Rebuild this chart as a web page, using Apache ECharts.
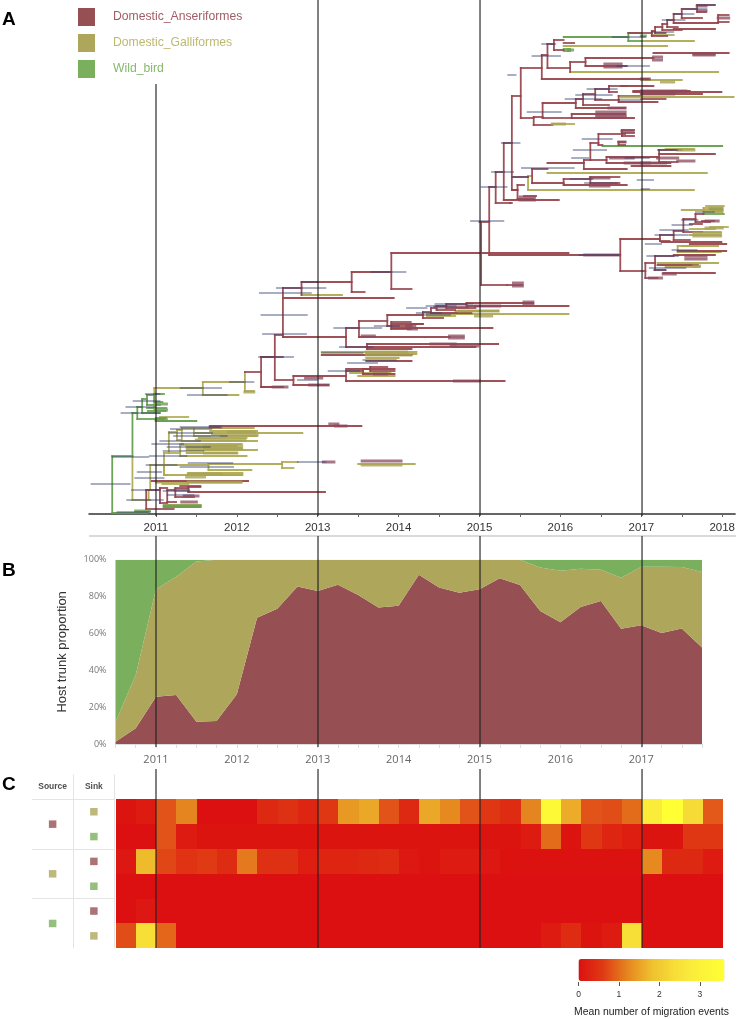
<!DOCTYPE html>
<html><head><meta charset="utf-8">
<style>html,body{margin:0;padding:0;background:#fff}#c{width:738px;height:1019px}</style>
<script src="https://cdn.jsdelivr.net/npm/echarts@6/dist/echarts.min.js"></script>
</head><body><div id="c"></div>
<script>
// ---------- hosts ----------
const hostNames = ['Domestic_Anseriformes','Domestic_Galliformes','Wild_bird'];
const guideYears = [2011,2013,2015,2017];
const yearTicks = [2011,2011.5,2012,2012.5,2013,2013.5,2014,2014.5,2015,2015.5,2016,2016.5,2017,2017.5,2018];

// ---------- Panel A: tree, x = decimal year, y = tip rank ----------
// forks: [nodeYear, rankTop, yearTop, rankBottom, yearBottom]
const anserForks = [
 [2012.30,357,2012.47,387,2012.57],[2012.47,335,2012.57,380,2012.70],[2012.57,288,2012.80,337,2013.35],
 [2012.80,282,2013.42,295,2012.80],[2013.42,272,2013.91,292,2013.58],[2013.91,253,2015.00,289,2014.16],
 [2012.70,376,2013.35,385,2013.13],[2013.35,328,2013.51,347,2013.61],[2013.51,321,2013.86,337,2014.63],
 [2013.86,315,2014.30,326,2013.91],[2013.91,322,2014.15,329,2014.15],[2014.30,312,2014.40,318,2014.55],
 [2014.40,308,2014.47,313,2014.9],[2014.47,306,2014.59,310,2014.7],[2014.59,304,2014.84,308,2014.95],
 [2014.84,303,2015.66,306,2016.10],[2013.61,344,2015.23,349,2014.16],
 [2013.35,371,2013.56,381,2015.31],[2013.56,369,2013.65,374,2013.95],[2013.65,367,2013.86,371,2013.95],
 [2015.02,222,2015.12,285,2015.34],[2015.12,187,2015.20,255,2016.72],[2015.20,172,2015.30,203,2015.38],
 [2015.30,143,2015.40,200,2015.98],[2015.40,96,2015.51,190,2015.47],[2015.47,185,2015.55,199,2015.67],
 [2015.65,169,2015.84,183,2016.04],[2016.04,179,2016.37,185,2016.82],[2016.37,177,2016.73,183,2016.73],
 [2016.29,160,2016.37,169,2016.82],[2016.37,143,2016.47,160,2016.57],[2016.47,134,2016.80,145,2016.52],
 [2016.57,157,2017.22,163,2017.36],[2017.22,150,2017.50,162,2017.45],
 [2015.51,68,2015.77,118,2015.67],[2015.77,55,2015.84,79,2017.09],[2015.84,44,2015.92,68,2016.12],
 [2015.92,40,2016.04,50,2016.04],[2016.12,62,2016.31,72,2016.12],[2016.31,58,2017.15,66,2016.82],
 [2017.13,31,2017.17,36,2017.32],[2017.17,27,2017.26,33,2017.30],[2017.26,24,2017.32,30,2017.50],
 [2017.32,20,2017.40,27,2017.45],[2017.40,14,2017.50,23,2017.95],[2017.50,9,2017.69,18,2017.75],
 [2017.69,5,2017.91,12,2017.80],[2017.95,15,2018.08,22,2018.08],
 [2015.67,117,2015.78,125,2015.90],[2015.78,103,2016.19,118,2016.14],[2016.19,99,2016.28,108,2016.80],
 [2016.28,94,2016.43,105,2016.60],[2016.43,89,2016.60,100,2016.72],[2016.72,96,2017.00,102,2017.20],
 [2016.60,86,2016.82,92,2016.70],[2016.14,114,2016.80,118,2016.91],
 [2016.74,239,2017.23,271,2017.05],[2017.05,263,2017.17,278,2017.20],[2017.17,256,2017.40,270,2017.30],
 [2017.23,235,2017.40,241,2017.35],[2017.40,231,2017.52,240,2017.60],[2017.52,219,2017.67,232,2017.75],
 [2017.67,214,2017.77,222,2017.85],
 [2010.88,490,2011.05,509,2011.22],[2011.05,488,2011.14,503,2011.14],[2011.14,490,2011.24,502,2011.25],
 [2011.24,488,2011.40,497,2011.47],[2011.40,487,2011.55,492,2013.09],
 [2016.76,130,2016.91,136,2016.91],[2016.72,142,2016.80,145,2016.80]
];
// branches: [yearStart, yearEnd, rank]
const anserBranches = [
 [2012.57,2013.94,298],[2012.30,2012.57,357],[2012.10,2012.30,372],[2012.30,2012.57,387],
 [2015.00,2016.10,253],[2016.72,2016.74,255],[2015.34,2015.53,285],[2015.38,2015.40,203],
 [2013.91,2014.16,326],[2014.16,2014.30,324],[2013.91,2014.30,324],[2013.91,2015.16,328],
 [2013.61,2014.95,347],[2013.05,2014.16,355],[2013.60,2014.16,361],[2013.35,2013.95,369],
 [2015.40,2015.60,177],[2015.84,2016.29,163],[2016.04,2016.17,43],[2016.84,2017.13,33],
 [2017.15,2018.08,53],[2017.22,2017.91,154],[2017.40,2017.91,29],[2016.90,2017.99,92],
 [2016.90,2017.60,91],[2017.00,2017.75,94],[2016.75,2017.15,86],[2017.00,2017.30,99],
 [2016.76,2016.91,133],[2017.40,2017.91,255],[2017.45,2018.05,251],[2017.27,2017.91,273],
 [2017.25,2017.99,242],[2017.60,2018.05,244],[2015.00,2015.02,222],[2016.88,2017.36,166],
 [2011.67,2013.54,426],[2010.95,2012.14,481],[2011.30,2011.55,486],[2017.60,2017.75,224],[2017.75,2017.90,221],
 [2015.55,2015.70,196],[2015.40,2015.47,190],[2017.20,2017.70,265]
];
const galliForks = [
 [2010.71,456,2010.71,500,2010.91],[2010.93,465,2011.10,490,2010.93],[2010.91,490,2010.91,500,2010.93],
 [2011.10,453,2011.16,475,2011.14],[2011.16,432,2011.26,453,2011.30],[2011.26,430,2011.32,440,2011.30],
 [2011.32,428,2011.47,441,2011.53],[2011.47,428,2011.67,436,2011.67],[2011.30,445,2011.38,456,2011.38],
 [2010.98,388,2011.58,413,2010.98],[2011.58,382,2012.10,395,2012.02],[2012.10,372,2012.10,391,2012.21],
 [2011.10,465,2011.65,475,2012.06],[2011.65,464,2012.56,470,2012.18],[2012.56,462,2012.75,468,2012.70],
 [2015.60,176,2015.65,190,2017.65],[2017.45,246,2017.70,252,2017.98],[2017.77,208,2018.00,212,2018.00]
];
const galliBranches = [
 [2011.67,2012.21,428],[2011.67,2012.25,431],[2011.47,2012.81,433],[2011.80,2012.25,436],[2011.53,2012.12,438],
 [2011.53,2012.25,441],[2011.30,2012.06,444],[2011.38,2012.00,446],[2011.38,2012.06,448],[2011.38,2012.25,450],
 [2011.38,2012.00,453],[2011.38,2012.12,456],[2011.05,2011.40,417],[2011.00,2012.06,482.5],[2011.08,2011.40,484],
 [2011.40,2012.07,473],[2011.55,2012.07,475],[2011.10,2011.55,505],
 [2012.80,2013.30,295],[2013.50,2014.20,464],[2013.05,2014.22,352],[2013.60,2014.22,354],[2013.60,2014.00,358],
 [2013.40,2013.90,373],[2013.50,2013.95,376],[2014.70,2015.23,311],[2014.35,2016.10,314],[2014.35,2014.70,316],
 [2015.84,2017.81,173],[2016.04,2017.32,46],[2016.12,2017.95,72],[2017.00,2017.65,41],[2015.90,2016.17,124],
 [2017.00,2018.14,97],[2017.30,2017.65,149],[2017.13,2017.40,35],[2017.00,2017.50,80],
 [2017.85,2018.07,227],[2017.60,2017.98,235],[2017.75,2017.98,232],[2017.60,2017.91,229],[2017.20,2017.95,263],
 [2017.30,2017.72,267],[2017.50,2018.00,210],[2017.50,2017.95,246],[2017.80,2018.02,206]
];
const wildForks = [
 [2010.46,456,2010.71,513,2010.89],[2010.71,413,2010.77,456,2010.71],[2010.77,407,2010.83,419,2011.10],
 [2010.83,399,2010.89,413,2011.05],[2010.89,395,2010.98,405,2011.05],[2010.98,394,2011.10,402,2011.08],
 [2016.84,33,2017.00,41,2017.00]
];
const wildBranches = [
 [2010.89,2011.13,408],[2010.90,2011.12,411],[2011.00,2011.13,418],[2011.00,2011.50,421],[2011.10,2011.55,507],
 [2016.04,2016.84,37],[2016.04,2016.12,51],[2016.04,2016.12,49],[2016.52,2018.00,146],[2017.77,2018.02,214],
 [2010.75,2010.90,512],[2017.85,2018.00,209]
];
// thick merged tip groups: [yearStart, yearEnd, rank]
const anserDense = [
 [2015.42,2015.53,283],[2015.42,2015.53,286],[2015.50,2015.68,197],[2015.50,2015.68,200],[2016.37,2016.60,178],
 [2016.37,2016.60,186],[2016.62,2016.90,158],[2016.80,2017.10,163],[2017.15,2017.25,57],[2017.15,2017.25,60],
 [2017.65,2017.90,54],[2016.55,2016.75,64],[2016.55,2016.75,67],[2016.45,2016.80,112],[2016.45,2016.80,115],
 [2016.45,2016.80,117],[2016.60,2016.80,108],[2017.00,2017.55,91],[2017.00,2017.40,94],[2017.69,2017.80,6],
 [2017.70,2017.80,11],[2017.95,2018.08,18],[2017.00,2017.10,79],[2016.76,2016.90,131],[2016.72,2016.80,142],
 [2017.20,2017.45,158],[2017.45,2017.65,161],[2017.00,2017.30,163],[2017.65,2017.90,55],[2017.55,2017.80,256],
 [2017.55,2017.80,259],[2017.27,2017.42,274],[2017.10,2017.25,278],[2017.80,2017.95,221],
 [2012.90,2013.13,385],[2012.45,2012.62,387],[2012.85,2013.05,378],[2014.69,2015.00,381],
 [2014.63,2014.80,336],[2014.63,2014.80,338],[2014.10,2014.20,326],[2014.12,2014.22,329],[2015.55,2015.66,302],
 [2015.55,2015.66,304],[2014.95,2015.25,306],[2014.45,2014.85,307],[2014.40,2014.70,344],[2014.65,2014.98,346],
 [2013.70,2013.85,374],[2013.55,2013.70,336],[2013.15,2013.25,424],[2013.22,2013.35,426],[2011.24,2011.40,490],
 [2011.35,2011.52,496],[2011.32,2011.50,502],[2013.07,2013.20,462],[2013.55,2014.03,461],[2011.67,2011.80,427],
 [2016.30,2016.72,255]
];
const galliDense = [
 [2011.90,2012.21,432],[2011.70,2012.25,435],[2011.50,2012.10,440],[2011.60,2012.06,446],[2011.60,2012.06,449],
 [2011.60,2012.00,453],[2011.40,2011.80,474],[2011.38,2011.60,477],[2011.40,2012.05,482],[2012.10,2012.21,392],
 [2013.55,2014.03,465],[2013.60,2014.10,352],[2013.60,2014.15,355],[2014.75,2015.23,311],[2015.90,2016.05,124],
 [2017.65,2017.98,233],[2017.65,2017.98,236],[2017.85,2018.00,208],[2017.90,2018.00,211],[2017.80,2018.00,228],
 [2017.25,2017.40,82],[2017.65,2017.72,266],[2014.95,2015.15,316],[2017.45,2017.65,150],[2016.75,2017.00,97]
];
const wildDense = [
 [2010.75,2010.92,511],[2011.00,2011.13,404],[2011.00,2011.13,410],[2011.00,2011.13,420],[2011.10,2011.55,506],
 [2016.10,2016.15,50],[2017.00,2017.05,36]
];
// posterior-interval whiskers: [yearStart, yearEnd, rank]
const hpdBars = [
 [2010.20,2010.68,484],[2010.46,2010.91,457],[2010.57,2011.05,413],[2010.63,2011.00,407],[2010.72,2011.05,401],
 [2010.87,2011.05,394],[2011.30,2011.81,388],[2011.39,2011.88,395],[2011.91,2012.21,382],[2010.88,2011.26,465],
 [2010.77,2011.07,472],[2010.74,2011.10,478],[2010.70,2011.05,490],[2011.30,2011.96,467],[2012.75,2013.10,462],
 [2010.64,2011.09,500],[2010.52,2010.93,512],[2011.30,2011.79,427],[2011.18,2011.69,429],[2011.16,2011.70,433],
 [2011.22,2011.88,436],[2011.05,2011.55,441],[2010.95,2011.34,444],[2011.14,2011.67,447],[2011.09,2011.59,451],
 [2010.92,2011.38,456],[2011.09,2011.42,491],[2011.14,2011.47,495],[2011.40,2011.95,463],
 [2012.49,2013.10,288],[2012.28,2012.92,293],[2012.30,2012.87,315],[2012.32,2012.86,334],[2012.27,2012.70,357],
 [2013.20,2013.79,328],[2013.27,2013.68,347],[2013.13,2013.52,371],[2013.05,2013.56,353],[2013.70,2014.01,326],
 [2013.37,2013.74,363],[2013.56,2013.97,360],[2014.34,2014.71,306],[2014.45,2014.92,304],[2014.22,2014.53,313],
 [2014.30,2014.64,315],[2013.66,2014.09,272],[2012.80,2013.00,282],[2012.75,2013.00,380],[2014.10,2014.35,308],
 [2014.89,2015.30,221],[2015.02,2015.34,187],[2015.15,2015.42,172],[2015.27,2015.50,143],[2015.41,2015.60,177],
 [2015.52,2016.17,168],[2015.59,2016.01,112],[2015.65,2016.00,56],[2015.77,2015.94,44],[2016.06,2016.51,99],
 [2016.19,2016.64,95],[2016.33,2016.70,89],[2016.16,2016.57,150],[2016.27,2016.64,139],[2016.14,2016.35,158],
 [2016.12,2016.40,179],[2016.64,2017.05,37],[2017.07,2017.46,256],[2017.38,2017.69,250],[2016.23,2016.72,255],
 [2017.17,2017.58,235],[2017.23,2017.58,230],[2017.38,2017.63,225],[2017.50,2017.70,220],[2017.67,2017.90,212],
 [2017.13,2017.40,32],[2017.26,2017.54,20],[2017.40,2017.65,14],[2017.52,2017.81,9],[2017.69,2017.91,5],
 [2015.35,2015.45,75],[2016.72,2017.00,100],[2016.70,2017.10,66],[2016.30,2016.70,183],[2016.80,2017.10,158],
 [2017.05,2017.25,244],[2017.10,2017.55,268],[2017.15,2017.30,270],[2017.20,2017.45,150],[2016.95,2017.15,180],
 [2017.00,2017.10,189]
];
// ---------- Panel B ----------
const trunkYears = ['2010.5','2010.75','2011','2011.25','2011.5','2011.75','2012','2012.25','2012.5','2012.75','2013','2013.25','2013.5','2013.75','2014','2014.25','2014.5','2014.75','2015','2015.25','2015.5','2015.75','2016','2016.25','2016.5','2016.75','2017','2017.25','2017.5','2017.75'];
const trunkAnser = [1.2,8.5,25.7,26.6,12.1,12.5,27,68.5,73.4,85.4,83,86.4,80.8,74,75,91.9,84.9,82.1,83.9,89.9,86.3,72.2,66,74.3,77.6,62.6,64.4,60.2,62.7,52.4];
const trunkGalli = [10.8,28.9,58.2,64.2,86.9,87.5,73,31.5,26.6,14.6,17,13.6,19.2,26,25,8.1,15.1,17.9,16.1,10.1,13.7,23.5,28,20.8,17,27.6,31.8,36,33.3,40.9];
const trunkWild = [88,62.6,16.1,9.2,1,0,0,0,0,0,0,0,0,0,0,0,0,0,0,0,0,4.3,6,4.9,5.4,9.8,3.8,3.8,4,6.7];
// ---------- Panel C ----------
const heatRows = ['Anseriformes→Galliformes','Anseriformes→Wild','Galliformes→Anseriformes','Galliformes→Wild','Wild→Anseriformes','Wild→Galliformes'];
const heatAG = [.05,.15,.8,1.2,0,0,0,.35,.45,.3,.55,1.4,1.55,.8,.35,1.55,1.25,.8,.55,.4,1.2,3.3,1.6,.8,.75,1,2.8,3.6,2.3,.85];
const heatAW = [0,0,.8,.15,.05,.05,.05,.05,.05,.05,.05,.05,.05,.05,.05,.05,.05,.05,.05,.05,.15,1,.05,.55,.3,.2,.05,.05,.55,.55];
const heatGA = [.1,1.75,.7,.5,.6,.4,1.1,.45,.45,.2,.3,.3,.35,.4,.1,.05,.15,.15,.1,.03,.03,.03,.03,.03,.03,.03,1.25,.35,.35,.15];
const heatGW = [0,0,0,0,0,0,0,0,0,0,0,0,0,0,0,0,0,0,0,0,0,0,0,0,0,0,0,0,0,0];
const heatWA = [0,.1,0,0,0,0,0,0,0,0,0,0,0,0,0,0,0,0,0,0,0,0,0,0,0,0,0,0,0,0];
const heatWG = [.75,2.4,.95,0,0,0,0,0,0,0,0,0,0,0,0,0,0,0,0,0,0,.15,.4,.05,.15,2.4,0,0,0,0];
const heatValues = [heatAG,heatAW,heatGA,heatGW,heatWA,heatWG];
const sourceHosts = [0,1,2];
const sinkHosts = [1,2,0,2,0,1];
const scaleTicks = [0,1,2,3];
const scaleMax = 3.61;

// ---------- styles ----------
const hostColors = ['#965053','#ADA65B','#79AF5D'];
const legendTextColors = ['#A35D66','#BDB96F','#86B96C'];
const treeColors = ['#97424A','#ACA84E','#5F9D48'];
const sans = '"Liberation Sans",Arial,sans-serif';
const calib = '"Open Sans",Lato,sans-serif';

function segmentsFrom(forks, branches){
  const out=[];
  forks.forEach(([x,a,xa,b,xb])=>{out.push([x,a,x,b]);if(xa!==x)out.push([x,a,xa,a]);if(xb!==x)out.push([x,b,xb,b]);});
  branches.forEach(([x1,x2,y])=>out.push([x1,y,x2,y]));
  return out;
}
const barsFrom = rows => rows.map(([x1,x2,y])=>[x1,y,x2,y]);
function segmentSeries(name,data,color,width,opacity,z){
  return {name,type:'custom',xAxisIndex:0,yAxisIndex:0,z,silent:true,clip:true,itemStyle:{color},
    encode:{x:[0,2],y:[1,3]},data,
    renderItem:(p,api)=>{const a=api.coord([api.value(0),api.value(1)]),b=api.coord([api.value(2),api.value(3)]);
      return {type:'line',shape:{x1:a[0],y1:a[1],x2:b[0],y2:b[1]},style:{stroke:color,lineWidth:width,opacity,lineCap:'square'}};}};
}
function areaSeries(i,values){
  return {name:hostNames[i],type:'line',xAxisIndex:1,yAxisIndex:1,stack:'trunk',symbol:'none',silent:true,z:2,
    lineStyle:{width:0},itemStyle:{color:hostColors[i]},areaStyle:{color:hostColors[i],opacity:1},data:values};
}
const guideSpans = {2011:[[84,516],[536,747],[769,948]],other:[[0,516],[536,747],[769,948]]};
const guideData=[];
guideYears.forEach(yr=>(guideSpans[yr]||guideSpans.other).forEach(s=>guideData.push([yr,s[0],s[1]])));

const heatData=[];
heatValues.forEach((row,r)=>row.forEach((v,c)=>heatData.push([c,r,v])));
const tableData=[];
sourceHosts.forEach((h,i)=>tableData.push({value:[0.5,5-2*i],itemStyle:{color:hostColors[h]}}));
sinkHosts.forEach((h,i)=>tableData.push({value:[1.5,5.5-i],itemStyle:{color:hostColors[h]}}));

const chart = echarts.init(document.getElementById('c'),null,{renderer:'canvas'});
const hidden={show:false};
chart.setOption({
  animation:false,backgroundColor:'#fff',
  legend:{orient:'vertical',left:78,top:8,itemWidth:17,itemHeight:18,itemGap:8,icon:'rect',selectedMode:false,padding:0,
    data:hostNames.map((n,i)=>({name:n,itemStyle:{color:hostColors[i]},textStyle:{color:legendTextColors[i],fontFamily:sans,fontSize:12.2,padding:[3,0,0,13]}}))},
  grid:[
    {left:89,width:647,top:0,height:514},
    {left:115.5,width:586.5,top:559.7,height:184.3},
    {left:115.5,width:607.5,top:799.3,height:149},
    {left:32,width:82.5,top:774.5,height:173.8},
    {left:578.5,width:146,top:981,height:1},
    {left:89,width:647,top:0,height:1019}
  ],
  xAxis:[
    {type:'value',gridIndex:0,position:'bottom',min:2010.173,max:2018.16,splitLine:hidden,
      axisLine:{onZero:false,lineStyle:{color:'#333',width:1.5}},
      axisTick:{customValues:yearTicks,length:3,lineStyle:{color:'#666'}},
      axisLabel:{customValues:yearTicks.filter(v=>Number.isInteger(v)),formatter:v=>String(v),color:'#333',fontFamily:sans,fontSize:11.5,margin:8}},
    {type:'category',gridIndex:1,data:trunkYears,boundaryGap:false,splitLine:hidden,
      axisLine:{lineStyle:{color:'#ddd'}},axisTick:{interval:0,length:4,lineStyle:{color:'#ddd'}},
      axisLabel:{interval:0,hideOverlap:false,showMinLabel:true,showMaxLabel:true,formatter:v=>Number.isInteger(Number(v))?v:'',color:'#666',fontFamily:calib,fontSize:11,margin:10}},
    {type:'category',gridIndex:2,data:trunkYears,show:false},
    {type:'value',gridIndex:3,min:0,max:2,interval:1,axisLine:hidden,axisTick:hidden,axisLabel:hidden,
      splitLine:{show:true,showMinLine:false,lineStyle:{color:'#e4e4e4'}}},
    {type:'value',gridIndex:4,min:0,max:scaleMax,interval:1,splitLine:hidden,
      axisLine:hidden,axisTick:{customValues:scaleTicks,length:4,lineStyle:{color:'#555'}},
      axisLabel:{customValues:scaleTicks,formatter:v=>String(v),color:'#333',fontFamily:sans,fontSize:8.5,margin:8},
      name:'Mean number of migration events',nameLocation:'middle',nameGap:25,
      nameTextStyle:{color:'#222',fontFamily:sans,fontSize:10.4}},
    {type:'value',gridIndex:5,min:2010.173,max:2018.16,show:false}
  ],
  yAxis:[
    {type:'value',gridIndex:0,min:0,max:514,inverse:true,show:false},
    {type:'value',gridIndex:1,min:0,max:100,interval:20,splitLine:hidden,axisLine:hidden,axisTick:hidden,
      axisLabel:{formatter:'{value}%',color:'#777',fontFamily:calib,fontSize:9,margin:9},
      name:'Host trunk proportion',nameLocation:'middle',nameRotate:90,nameGap:47,
      nameTextStyle:{color:'#333',fontFamily:sans,fontSize:13}},
    {type:'category',gridIndex:2,data:heatRows,inverse:true,show:false},
    {type:'value',gridIndex:3,min:0,max:7,interval:2,axisLine:hidden,axisTick:hidden,axisLabel:hidden,
      splitLine:{show:true,showMinLine:false,showMaxLine:false,lineStyle:{color:'#e4e4e4'}}},
    {type:'value',gridIndex:4,min:0,max:1,show:false},
    {type:'value',gridIndex:5,min:0,max:1019,inverse:true,show:false}
  ],
  visualMap:{type:'continuous',seriesIndex:[12],dimension:2,min:0,max:3.6,left:578.5,top:959,orient:'horizontal',itemWidth:22,itemHeight:146,
    padding:0,calculable:false,realtime:false,hoverLink:false,text:null,
    inRange:{color:['#DC1010','#DF3A14','#E5851F','#EFC02E','#F7DF38','#FCF23A','#FFFF33']}},
  series:[
    segmentSeries(hostNames[0],segmentsFrom(anserForks,anserBranches),treeColors[0],1.8,.92,3),
    segmentSeries(hostNames[1],segmentsFrom(galliForks,galliBranches),treeColors[1],1.8,.92,2),
    segmentSeries(hostNames[2],segmentsFrom(wildForks,wildBranches),treeColors[2],1.8,.92,2),
    segmentSeries('anser groups',barsFrom(anserDense),'#8A4A5C',3,.75,4),
    segmentSeries('galli groups',barsFrom(galliDense),'#A8A255',3,.8,4),
    segmentSeries('wild groups',barsFrom(wildDense),'#6A9C50',3,.8,4),
    segmentSeries('hpd',barsFrom(hpdBars),'#34406F',1,.85,5),
    areaSeries(0,trunkAnser),areaSeries(1,trunkGalli),areaSeries(2,trunkWild),
    {type:'scatter',xAxisIndex:3,yAxisIndex:3,symbol:'rect',symbolSize:7.5,silent:true,data:tableData},
    {type:'scatter',xAxisIndex:3,yAxisIndex:3,symbolSize:0,silent:true,
      data:[{value:[0.5,6.5],name:'Source'},{value:[1.5,6.5],name:'Sink'}],
      label:{show:true,position:'inside',formatter:'{b}',color:'#222',fontFamily:sans,fontSize:8.5,fontWeight:'bold'}},
    {type:'custom',xAxisIndex:2,yAxisIndex:2,data:heatData,silent:true,z:2,encode:{x:0,y:1},
      renderItem:(p,api)=>{const c=api.coord([api.value(0),api.value(1)]),s=api.size([1,1]);
        const x0=Math.round(c[0]-s[0]/2),x1=Math.round(c[0]+s[0]/2),y0=Math.round(c[1]-s[1]/2),y1=Math.round(c[1]+s[1]/2);
        return {type:'rect',shape:{x:x0,y:y0,width:x1-x0,height:y1-y0},style:{fill:api.visual('color'),lineWidth:0}};}},
    {type:'scatter',xAxisIndex:4,yAxisIndex:4,symbolSize:0,silent:true,data:[[0,0]]},
    {type:'custom',xAxisIndex:5,yAxisIndex:5,z:20,silent:true,clip:false,encode:{x:0,y:[1,2]},data:guideData,
      renderItem:(p,api)=>{const a=api.coord([api.value(0),api.value(1)]),b=api.coord([api.value(0),api.value(2)]);
        return {type:'line',shape:{x1:a[0],y1:a[1],x2:b[0],y2:b[1]},style:{stroke:'#222',lineWidth:1.3,opacity:.88}};}}
  ],
  graphic:[
    {type:'line',silent:true,shape:{x1:89,y1:536,x2:736,y2:536},style:{stroke:'#b5b5b5',lineWidth:1}},
    {type:'text',silent:true,left:2,top:10,style:{text:'A',fontFamily:sans,fontSize:19,fontWeight:'bold',fill:'#000'}},
    {type:'text',silent:true,left:2,top:561,style:{text:'B',fontFamily:sans,fontSize:19,fontWeight:'bold',fill:'#000'}},
    {type:'text',silent:true,left:2,top:775,style:{text:'C',fontFamily:sans,fontSize:19,fontWeight:'bold',fill:'#000'}}
  ]
});
</script></body></html>
